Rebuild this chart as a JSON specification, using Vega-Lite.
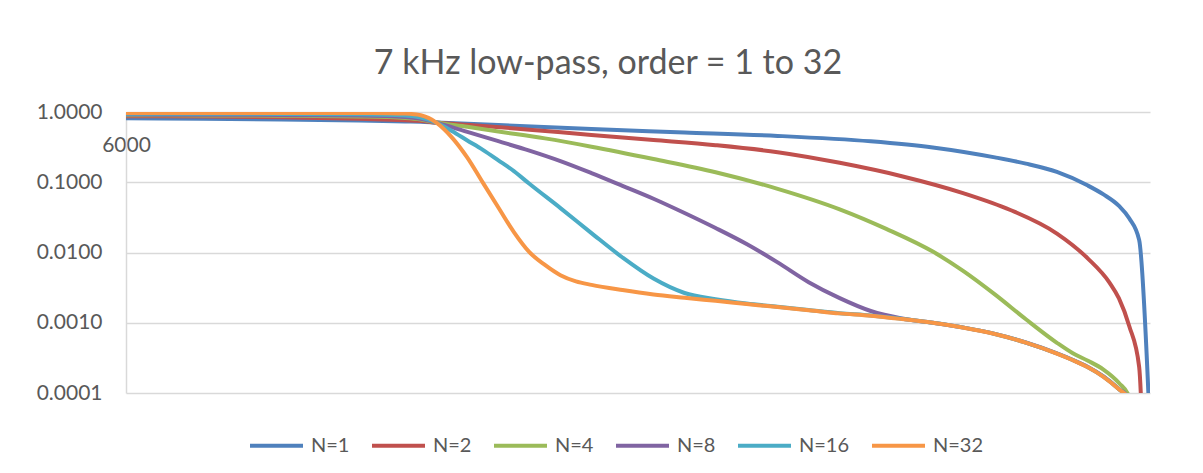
{
  "$schema": "https://vega.github.io/schema/vega-lite/v6.json",
  "width": 1024,
  "height": 281,
  "autosize": {"type": "none"},
  "padding": {"left": 126, "top": 112, "right": 53, "bottom": 80},
  "background": "white",
  "title": {
    "text": "7 kHz low-pass, order = 1 to 32",
    "anchor": "middle",
    "dx": -30,
    "font": "Lato",
    "fontSize": 34,
    "fontWeight": "normal",
    "color": "#595959",
    "baseline": "alphabetic",
    "offset": -7
  },
  "config": {
    "view": {"stroke": null},
    "font": "Lato"
  },
  "data": {
    "values": [
      {"f": 6000, "s": "N=1", "v": 0.813},
      {"f": 6250, "s": "N=1", "v": 0.8},
      {"f": 6500, "s": "N=1", "v": 0.782},
      {"f": 6750, "s": "N=1", "v": 0.757},
      {"f": 6900, "s": "N=1", "v": 0.732},
      {"f": 6950, "s": "N=1", "v": 0.725},
      {"f": 7000, "s": "N=1", "v": 0.707},
      {"f": 7200, "s": "N=1", "v": 0.653},
      {"f": 7500, "s": "N=1", "v": 0.571},
      {"f": 7800, "s": "N=1", "v": 0.512},
      {"f": 8100, "s": "N=1", "v": 0.457},
      {"f": 8400, "s": "N=1", "v": 0.382},
      {"f": 8600, "s": "N=1", "v": 0.313},
      {"f": 8800, "s": "N=1", "v": 0.226},
      {"f": 8900, "s": "N=1", "v": 0.184},
      {"f": 9000, "s": "N=1", "v": 0.14},
      {"f": 9100, "s": "N=1", "v": 0.0896},
      {"f": 9150, "s": "N=1", "v": 0.0671},
      {"f": 9200, "s": "N=1", "v": 0.046},
      {"f": 9233, "s": "N=1", "v": 0.0307},
      {"f": 9265, "s": "N=1", "v": 0.0151},
      {"f": 9297, "s": "N=1", "v": 0.00006},

      {"f": 6000, "s": "N=2", "v": 0.869},
      {"f": 6250, "s": "N=2", "v": 0.862},
      {"f": 6500, "s": "N=2", "v": 0.845},
      {"f": 6750, "s": "N=2", "v": 0.8},
      {"f": 6900, "s": "N=2", "v": 0.762},
      {"f": 6950, "s": "N=2", "v": 0.745},
      {"f": 7000, "s": "N=2", "v": 0.707},
      {"f": 7150, "s": "N=2", "v": 0.634},
      {"f": 7300, "s": "N=2", "v": 0.56},
      {"f": 7500, "s": "N=2", "v": 0.472},
      {"f": 7700, "s": "N=2", "v": 0.4},
      {"f": 7900, "s": "N=2", "v": 0.337},
      {"f": 8100, "s": "N=2", "v": 0.268},
      {"f": 8300, "s": "N=2", "v": 0.189},
      {"f": 8500, "s": "N=2", "v": 0.122},
      {"f": 8700, "s": "N=2", "v": 0.0696},
      {"f": 8850, "s": "N=2", "v": 0.0403},
      {"f": 9000, "s": "N=2", "v": 0.0186},
      {"f": 9100, "s": "N=2", "v": 0.0082},
      {"f": 9170, "s": "N=2", "v": 0.0037},
      {"f": 9200, "s": "N=2", "v": 0.00222},
      {"f": 9233, "s": "N=2", "v": 0.0009},
      {"f": 9265, "s": "N=2", "v": 0.000237},
      {"f": 9297, "s": "N=2", "v": 0.000000004},

      {"f": 6000, "s": "N=4", "v": 0.898},
      {"f": 6250, "s": "N=4", "v": 0.895},
      {"f": 6500, "s": "N=4", "v": 0.886},
      {"f": 6750, "s": "N=4", "v": 0.863},
      {"f": 6900, "s": "N=4", "v": 0.821},
      {"f": 6950, "s": "N=4", "v": 0.782},
      {"f": 7000, "s": "N=4", "v": 0.707},
      {"f": 7100, "s": "N=4", "v": 0.616},
      {"f": 7200, "s": "N=4", "v": 0.528},
      {"f": 7350, "s": "N=4", "v": 0.421},
      {"f": 7500, "s": "N=4", "v": 0.321},
      {"f": 7700, "s": "N=4", "v": 0.214},
      {"f": 7900, "s": "N=4", "v": 0.139},
      {"f": 8100, "s": "N=4", "v": 0.0807},
      {"f": 8300, "s": "N=4", "v": 0.0412},
      {"f": 8450, "s": "N=4", "v": 0.0217},
      {"f": 8600, "s": "N=4", "v": 0.0103},
      {"f": 8700, "s": "N=4", "v": 0.00538},
      {"f": 8800, "s": "N=4", "v": 0.00253},
      {"f": 8900, "s": "N=4", "v": 0.00112},
      {"f": 9000, "s": "N=4", "v": 0.000518},
      {"f": 9050, "s": "N=4", "v": 0.000371},
      {"f": 9100, "s": "N=4", "v": 0.000288},
      {"f": 9150, "s": "N=4", "v": 0.000216},
      {"f": 9200, "s": "N=4", "v": 0.000139},
      {"f": 9233, "s": "N=4", "v": 0.000088},
      {"f": 9265, "s": "N=4", "v": 0.0000001},

      {"f": 6000, "s": "N=8", "v": 0.918},
      {"f": 6250, "s": "N=8", "v": 0.915},
      {"f": 6500, "s": "N=8", "v": 0.91},
      {"f": 6750, "s": "N=8", "v": 0.892},
      {"f": 6900, "s": "N=8", "v": 0.849},
      {"f": 6950, "s": "N=8", "v": 0.8},
      {"f": 7000, "s": "N=8", "v": 0.707},
      {"f": 7050, "s": "N=8", "v": 0.61},
      {"f": 7100, "s": "N=8", "v": 0.521},
      {"f": 7200, "s": "N=8", "v": 0.384},
      {"f": 7300, "s": "N=8", "v": 0.282},
      {"f": 7400, "s": "N=8", "v": 0.2},
      {"f": 7500, "s": "N=8", "v": 0.135},
      {"f": 7600, "s": "N=8", "v": 0.089},
      {"f": 7700, "s": "N=8", "v": 0.0583},
      {"f": 7800, "s": "N=8", "v": 0.0365},
      {"f": 7900, "s": "N=8", "v": 0.0223},
      {"f": 8000, "s": "N=8", "v": 0.0132},
      {"f": 8100, "s": "N=8", "v": 0.00723},
      {"f": 8200, "s": "N=8", "v": 0.00378},
      {"f": 8300, "s": "N=8", "v": 0.00224},
      {"f": 8400, "s": "N=8", "v": 0.00147},
      {"f": 8500, "s": "N=8", "v": 0.00115},
      {"f": 8600, "s": "N=8", "v": 0.001},
      {"f": 8700, "s": "N=8", "v": 0.000853},
      {"f": 8800, "s": "N=8", "v": 0.000694},
      {"f": 8900, "s": "N=8", "v": 0.000523},
      {"f": 9000, "s": "N=8", "v": 0.000366},
      {"f": 9050, "s": "N=8", "v": 0.000297},
      {"f": 9100, "s": "N=8", "v": 0.000234},
      {"f": 9150, "s": "N=8", "v": 0.000172},
      {"f": 9200, "s": "N=8", "v": 0.000114},
      {"f": 9233, "s": "N=8", "v": 0.000083},
      {"f": 9265, "s": "N=8", "v": 0.00000001},

      {"f": 6000, "s": "N=16", "v": 0.943},
      {"f": 6250, "s": "N=16", "v": 0.943},
      {"f": 6500, "s": "N=16", "v": 0.94},
      {"f": 6750, "s": "N=16", "v": 0.93},
      {"f": 6900, "s": "N=16", "v": 0.892},
      {"f": 6950, "s": "N=16", "v": 0.835},
      {"f": 7000, "s": "N=16", "v": 0.707},
      {"f": 7050, "s": "N=16", "v": 0.536},
      {"f": 7100, "s": "N=16", "v": 0.393},
      {"f": 7150, "s": "N=16", "v": 0.289},
      {"f": 7200, "s": "N=16", "v": 0.205},
      {"f": 7250, "s": "N=16", "v": 0.144},
      {"f": 7300, "s": "N=16", "v": 0.0951},
      {"f": 7400, "s": "N=16", "v": 0.0429},
      {"f": 7500, "s": "N=16", "v": 0.0189},
      {"f": 7600, "s": "N=16", "v": 0.00849},
      {"f": 7700, "s": "N=16", "v": 0.00425},
      {"f": 7800, "s": "N=16", "v": 0.00265},
      {"f": 7900, "s": "N=16", "v": 0.00217},
      {"f": 8000, "s": "N=16", "v": 0.00188},
      {"f": 8100, "s": "N=16", "v": 0.00169},
      {"f": 8200, "s": "N=16", "v": 0.00152},
      {"f": 8300, "s": "N=16", "v": 0.00137},
      {"f": 8400, "s": "N=16", "v": 0.00127},
      {"f": 8500, "s": "N=16", "v": 0.00114},
      {"f": 8600, "s": "N=16", "v": 0.000999},
      {"f": 8700, "s": "N=16", "v": 0.000852},
      {"f": 8800, "s": "N=16", "v": 0.000693},
      {"f": 8900, "s": "N=16", "v": 0.000522},
      {"f": 9000, "s": "N=16", "v": 0.000365},
      {"f": 9050, "s": "N=16", "v": 0.000296},
      {"f": 9100, "s": "N=16", "v": 0.000233},
      {"f": 9150, "s": "N=16", "v": 0.000171},
      {"f": 9200, "s": "N=16", "v": 0.000113},
      {"f": 9233, "s": "N=16", "v": 0.000082},
      {"f": 9265, "s": "N=16", "v": 0.00000001},

      {"f": 6000, "s": "N=32", "v": 0.968},
      {"f": 6250, "s": "N=32", "v": 0.968},
      {"f": 6500, "s": "N=32", "v": 0.968},
      {"f": 6750, "s": "N=32", "v": 0.966},
      {"f": 6850, "s": "N=32", "v": 0.961},
      {"f": 6900, "s": "N=32", "v": 0.949},
      {"f": 6950, "s": "N=32", "v": 0.898},
      {"f": 7000, "s": "N=32", "v": 0.707},
      {"f": 7050, "s": "N=32", "v": 0.436},
      {"f": 7100, "s": "N=32", "v": 0.224},
      {"f": 7150, "s": "N=32", "v": 0.0986},
      {"f": 7200, "s": "N=32", "v": 0.0437},
      {"f": 7250, "s": "N=32", "v": 0.0195},
      {"f": 7300, "s": "N=32", "v": 0.0101},
      {"f": 7350, "s": "N=32", "v": 0.00665},
      {"f": 7400, "s": "N=32", "v": 0.00475},
      {"f": 7450, "s": "N=32", "v": 0.00388},
      {"f": 7500, "s": "N=32", "v": 0.00346},
      {"f": 7600, "s": "N=32", "v": 0.00292},
      {"f": 7700, "s": "N=32", "v": 0.00253},
      {"f": 7800, "s": "N=32", "v": 0.00227},
      {"f": 7900, "s": "N=32", "v": 0.00205},
      {"f": 8000, "s": "N=32", "v": 0.00185},
      {"f": 8100, "s": "N=32", "v": 0.00167},
      {"f": 8200, "s": "N=32", "v": 0.00151},
      {"f": 8300, "s": "N=32", "v": 0.00136},
      {"f": 8400, "s": "N=32", "v": 0.00126},
      {"f": 8500, "s": "N=32", "v": 0.00113},
      {"f": 8600, "s": "N=32", "v": 0.000998},
      {"f": 8700, "s": "N=32", "v": 0.000851},
      {"f": 8800, "s": "N=32", "v": 0.000692},
      {"f": 8900, "s": "N=32", "v": 0.000521},
      {"f": 9000, "s": "N=32", "v": 0.000364},
      {"f": 9050, "s": "N=32", "v": 0.000295},
      {"f": 9100, "s": "N=32", "v": 0.000232},
      {"f": 9150, "s": "N=32", "v": 0.00017},
      {"f": 9200, "s": "N=32", "v": 0.000113},
      {"f": 9233, "s": "N=32", "v": 0.000082},
      {"f": 9265, "s": "N=32", "v": 0.00000001}
    ]
  },
  "mark": {
    "type": "line",
    "strokeWidth": 4,
    "interpolate": "monotone",
    "clip": true,
    "strokeJoin": "round",
    "strokeCap": "round"
  },
  "encoding": {
    "x": {
      "field": "f",
      "type": "quantitative",
      "scale": {"domain": [6000, 9300], "nice": false, "zero": false},
      "axis": {
        "orient": "top",
        "title": null,
        "values": [6000],
        "format": "d",
        "labelFont": "Lato",
        "labelFontSize": 21,
        "labelColor": "#595959",
        "ticks": false,
        "tickSize": 0,
        "domain": false,
        "grid": false,
        "labelPadding": -33,
        "labelBaseline": "middle",
        "labelAlign": "center",
        "labelFlush": false
      }
    },
    "y": {
      "field": "v",
      "type": "quantitative",
      "scale": {"type": "log", "domain": [0.0001, 1], "nice": false},
      "axis": {
        "title": null,
        "values": [0.0001, 0.001, 0.01, 0.1, 1],
        "format": ".4f",
        "labelFont": "Lato",
        "labelFontSize": 21,
        "labelColor": "#595959",
        "labelPadding": 24,
        "ticks": false,
        "tickSize": 0,
        "domainColor": "#D9D9D9",
        "domainWidth": 1.5,
        "gridColor": "#D9D9D9",
        "gridWidth": 1.5,
        "labelFlush": false,
        "labelOverlap": false
      }
    },
    "color": {
      "field": "s",
      "type": "nominal",
      "scale": {
        "domain": ["N=1", "N=2", "N=4", "N=8", "N=16", "N=32"],
        "range": ["#4F81BD", "#C0504D", "#9BBB59", "#8064A2", "#4BACC6", "#F79646"]
      },
      "legend": {
        "title": null,
        "orient": "none",
        "legendX": 122,
        "legendY": 305,
        "direction": "horizontal",
        "symbolType": "stroke",
        "symbolSize": 2809,
        "symbolStrokeWidth": 4,
        "labelFont": "Lato",
        "labelFontSize": 20,
        "labelColor": "#595959",
        "labelOffset": 6,
        "columnPadding": 14
      }
    }
  }
}
